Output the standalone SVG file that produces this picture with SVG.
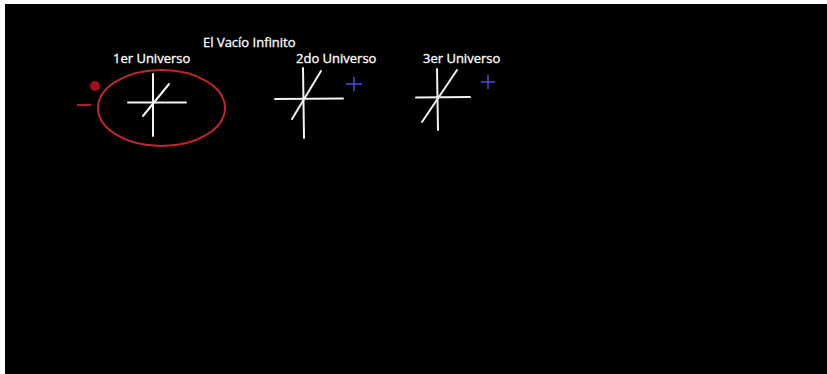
<svg xmlns="http://www.w3.org/2000/svg" width="827" height="374" viewBox="0 0 827 374">
<style>
.t{font-family:"Open Sans","Noto Sans",sans-serif;font-size:13px;fill:#ffffff;stroke:#ffffff;stroke-width:0.3}
.w{stroke:#f2f2f2;stroke-width:2;stroke-linecap:round;fill:none}
.b{stroke:#4d4de0;stroke-width:1.5;fill:none}
</style>
<rect x="0" y="0" width="827" height="374" fill="#ffffff"/>
<rect x="5" y="4" width="822" height="370" fill="#000000"/>
<g id="title"><text class="t" x="203" y="47">El Vacío Infinito</text></g>
<g id="universo1">
<text class="t" x="113" y="63">1er Universo</text>
<ellipse cx="161.5" cy="108" rx="63.5" ry="38" fill="none" stroke="#c0262d" stroke-width="2"/>
<circle cx="95" cy="86" r="5" fill="#a3101d"/>
<line x1="77" y1="105" x2="91" y2="105" stroke="#b52030" stroke-width="2"/>
<line class="w" x1="153" y1="74" x2="153" y2="136"/>
<line class="w" x1="128" y1="102.5" x2="186" y2="102.5"/>
<line class="w" x1="143" y1="116" x2="169" y2="84"/>
</g>
<g id="universo2">
<text class="t" x="296" y="63">2do Universo</text>
<line class="w" x1="303" y1="68" x2="304" y2="138"/>
<line class="w" x1="275" y1="99" x2="343" y2="98.5"/>
<line class="w" x1="292" y1="119" x2="321" y2="71"/>
<line class="b" x1="346" y1="84" x2="362" y2="84"/>
<line class="b" x1="354" y1="77" x2="354" y2="91"/>
</g>
<g id="universo3">
<text class="t" x="423" y="63">3er Universo</text>
<line class="w" x1="437" y1="69" x2="438" y2="130"/>
<line class="w" x1="416" y1="97.5" x2="470" y2="97"/>
<line class="w" x1="422" y1="122" x2="457" y2="70"/>
<line class="b" x1="481" y1="82" x2="495" y2="82"/>
<line class="b" x1="488" y1="75" x2="488" y2="89"/>
</g>
<g id="connectors"></g>
</svg>
